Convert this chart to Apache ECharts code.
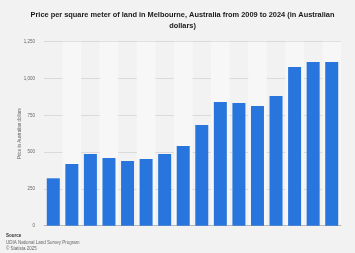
<!DOCTYPE html>
<html>
<head>
<meta charset="utf-8">
<script src="https://cdn.jsdelivr.net/npm/echarts@6/dist/echarts.min.js"></script>
<style>
	html, body { margin: 0; padding: 0; background: #f2f2f2; }
	#chart { width: 355px; height: 253px; }
</style>
</head>
<body>
<div id="chart"></div>
<script>
	// values, AUD per square meter
	var years = [ "2009", "2010", "2011", "2012", "2013", "2014", "2015", "2016", "2017", "2018", "2019", "2020",
			"2021", "2022", "2023", "2024" ];
	var prices = [ 322, 419, 487, 460, 440, 453, 487, 541, 684, 840, 834, 813, 881, 1078, 1112, 1112 ];
	var yTicks = [ 0, 250, 500, 750, 1000, 1250 ];

	var chart = echarts.init(document.getElementById("chart"), null, { renderer : "canvas" });

	chart.setOption({
		backgroundColor : "#f2f2f2",
		animation : false,
		textStyle : {
			fontFamily : "Liberation Sans"
		},
		title : {
			text : "Price per square meter of land in Melbourne, Australia from 2009 to 2024 (in Australian\ndollars)",
			left : 177.5,
			top : 4,
			textAlign : "center",
			textStyle : {
				fontSize : 7.4,
				fontWeight : "bold",
				color : "#1a1a1a",
				lineHeight : 11
			}
		},
		graphic : [ {
			type : "text",
			left : 6,
			top : 233,
			style : {
				text : "Source",
				font : "bold 4.5px Liberation Sans",
				fill : "#333"
			}
		}, {
			type : "text",
			left : 6,
			top : 240,
			style : {
				text : "UDIA National Land Survey Program\n© Statista 2025",
				font : "4.5px Liberation Sans",
				fill : "#666",
				lineHeight : 6
			}
		} ],
		grid : {
			left : 44,
			right : 14,
			top : 41.7,
			bottom : 27.3
		},
		xAxis : {
			type : "category",
			data : years,
			axisTick : {
				show : false
			},
			axisLabel : {
				show : false,
				interval : 0
			},
			axisLine : {
				lineStyle : {
					color : "#b8b8b8",
					width : 1
				}
			},
			splitArea : {
				show : true,
				interval : 0,
				areaStyle : {
					color : [ "rgba(0,0,0,0)", "#f7f7f7" ]
				}
			}
		},
		yAxis : {
			type : "value",
			min : yTicks[0],
			max : yTicks[yTicks.length - 1],
			interval : 250,
			name : "Price in Australian dollars",
			nameLocation : "middle",
			nameGap : 22,
			nameMoveOverlap : false,
			nameTextStyle : {
				fontSize : 4.5,
				color : "#666"
			},
			axisLabel : {
				fontSize : 4.5,
				color : "#666",
				margin : 9,
				formatter : function(v) {
					return v.toLocaleString("en-US");
				}
			},
			splitLine : {
				lineStyle : {
					color : "#dadada",
					width : 1
				}
			}
		},
		series : [ {
			type : "bar",
			data : prices,
			barWidth : "70%",
			itemStyle : {
				color : "#2876dd"
			}
		} ]
	});
</script>
</body>
</html>
